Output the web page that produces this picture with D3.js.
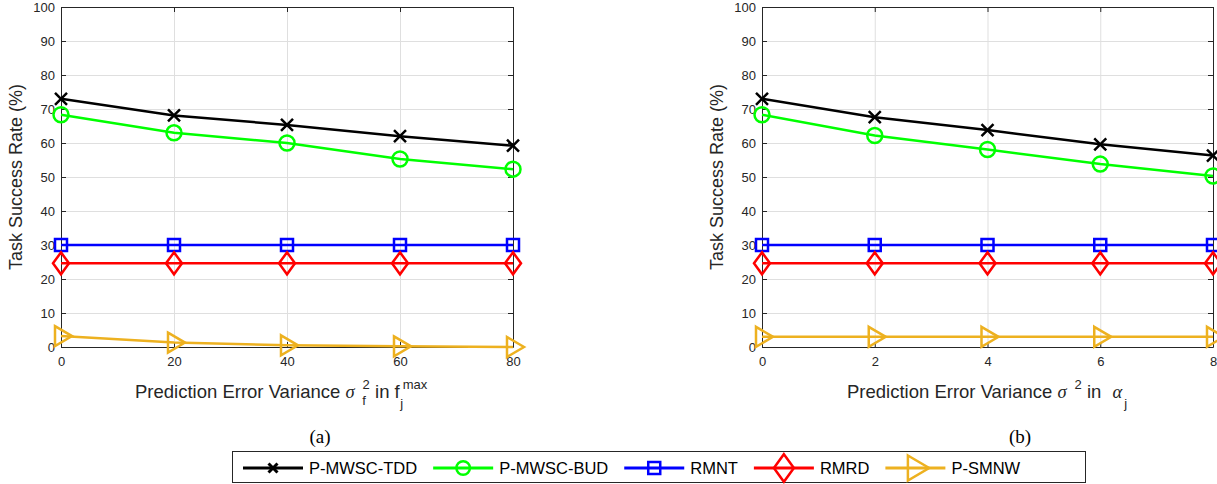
<!DOCTYPE html>
<html>
<head>
<meta charset="utf-8">
<title>Task Success Rate</title>
<script src="https://d3js.org/d3.v7.min.js"></script>
<style>
  body { margin: 0; background: #fff; }
  text { font-family: 'Liberation Sans', Arial, sans-serif; }
  .tick text { fill: #262626; }
  .serif { font-family: 'Liberation Serif', 'Times New Roman', serif; }
</style>
</head>
<body>
<div id="chart"></div>
<script>

  // ---- data ----
  var yTicks = [0, 10, 20, 30, 40, 50, 60, 70, 80, 90, 100];

  var xValsA = [0, 20, 40, 60, 80];
  var tddA   = [73.0, 68.1, 65.3, 62.0, 59.2];
  var budA   = [68.3, 63.0, 60.0, 55.3, 52.3];
  var rmntA  = [30, 30, 30, 30, 30];
  var rmrdA  = [24.6, 24.6, 24.6, 24.6, 24.6];
  var smnwA  = [3.2, 1.3, 0.5, 0.2, 0.0];

  var xValsB = [0, 2, 4, 6, 8];
  var tddB   = [73.0, 67.6, 63.8, 59.6, 56.3];
  var budB   = [68.3, 62.2, 58.1, 53.8, 50.3];
  var rmntB  = [30, 30, 30, 30, 30];
  var rmrdB  = [24.6, 24.6, 24.6, 24.6, 24.6];
  var smnwB  = [3.0, 3.0, 3.0, 3.0, 3.0];

  var seriesNames = ["P-MWSC-TDD", "P-MWSC-BUD", "RMNT", "RMRD", "P-SMNW"];
  var seriesColors = ["#000000", "#00ff00", "#0000ff", "#ff0000", "#edb120"];
  var seriesMarkers = ["x", "circle", "square", "diamond", "triangle"];

  // ---- svg ----
  var W = 1217, H = 484;
  var svg = d3.select("#chart").append("svg")
    .attr("width", W).attr("height", H);

  // marker path generator, centred at 0,0
  function markerPath(type, s) {
    var k = s || 1;
    if (type == "x") return "M" + (-6*k) + "," + (-6*k) + "L" + (6*k) + "," + (6*k) + "M" + (-6*k) + "," + (6*k) + "L" + (6*k) + "," + (-6*k);
    if (type == "circle") { var r = 7.5*k; return "M" + (-r) + ",0A" + r + "," + r + " 0 1,0 " + r + ",0A" + r + "," + r + " 0 1,0 " + (-r) + ",0Z"; }
    if (type == "square") return "M-6,-6H6V6H-6Z";
    if (type == "diamond") return "M0," + (-11*k) + "L" + (8*k) + ",0L0," + (11*k) + "L" + (-8*k) + ",0Z";
    if (type == "triangle") return "M" + (-6*k) + "," + (-10*k) + "L" + (11*k) + ",0L" + (-6*k) + "," + (10*k) + "Z";
  }

  function drawPanel(opt) {
    var g = svg.append("g");
    var x = d3.scaleLinear().domain(opt.xDomain).range([opt.x0, opt.x1]);
    var y = d3.scaleLinear().domain([0, 100]).range([347, 7]);

    // grid
    g.append("g").attr("transform", "translate(0,347)")
      .call(d3.axisBottom(x).tickValues(opt.xVals).tickSize(-340).tickFormat(""))
      .call(function (a) { a.select(".domain").remove(); a.selectAll("line").attr("stroke", "#dfdfdf"); });
    g.append("g").attr("transform", "translate(" + opt.x0 + ",0)")
      .call(d3.axisLeft(y).tickValues(yTicks).tickSize(-(opt.x1 - opt.x0)).tickFormat(""))
      .call(function (a) { a.select(".domain").remove(); a.selectAll("line").attr("stroke", "#dfdfdf"); });

    // box axes
    var axB = g.append("g").attr("transform", "translate(0,347)")
      .call(d3.axisBottom(x).tickValues(opt.xVals).tickSizeInner(-5).tickSizeOuter(0).tickPadding(10));
    var axL = g.append("g").attr("transform", "translate(" + opt.x0 + ",0)")
      .call(d3.axisLeft(y).tickValues(yTicks).tickSizeInner(-5).tickSizeOuter(0).tickPadding(6));
    var axT = g.append("g").attr("transform", "translate(0,7)")
      .call(d3.axisTop(x).tickValues(opt.xVals).tickSizeInner(-5).tickSizeOuter(0).tickFormat(""));
    var axR = g.append("g").attr("transform", "translate(" + opt.x1 + ",0)")
      .call(d3.axisRight(y).tickValues(yTicks).tickSizeInner(-5).tickSizeOuter(0).tickFormat(""));
    [axB, axL, axT, axR].forEach(function (a) {
      a.select(".domain").attr("stroke", "#262626");
      a.selectAll(".tick line").attr("stroke", "#262626");
    });
    axB.selectAll(".tick text").attr("font-size", 13);
    axL.selectAll(".tick text").attr("font-size", 13);

    // series
    var line = d3.line().x(function (d) { return x(d[0]); }).y(function (d) { return y(d[1]); });
    opt.series.forEach(function (vals, i) {
      var pts = opt.xVals.map(function (xv, j) { return [xv, vals[j]]; });
      g.append("path").datum(pts).attr("d", line)
        .attr("fill", "none").attr("stroke", seriesColors[i]).attr("stroke-width", 2.5);
      g.selectAll(".m" + i).data(pts).enter().append("path")
        .attr("transform", function (d) { return "translate(" + x(d[0]) + "," + y(d[1]) + ")"; })
        .attr("d", markerPath(seriesMarkers[i]))
        .attr("fill", "none").attr("stroke", seriesColors[i]).attr("stroke-width", 2.5);
    });

    // y label
    g.append("text")
      .attr("transform", "translate(" + opt.ylabX + ",177) rotate(-90)")
      .attr("text-anchor", "middle").attr("font-size", 18).attr("fill", "#262626")
      .text("Task Success Rate (%)");

    return g;
  }

  var gA = drawPanel({ xDomain: [0, 80], xVals: xValsA, x0: 61, x1: 513, ylabX: 22,
    series: [tddA, budA, rmntA, rmrdA, smnwA] });
  var gB = drawPanel({ xDomain: [0, 8], xVals: xValsB, x0: 762, x1: 1213, ylabX: 723,
    series: [tddB, budB, rmntB, rmrdB, smnwB] });

  // x labels
  var tA = svg.append("text").attr("x", 135).attr("y", 398)
    .attr("font-size", 18.5).attr("fill", "#262626");
  tA.append("tspan").text("Prediction Error Variance ");
  tA.append("tspan").attr("class", "serif").attr("font-style", "italic").text("\u03c3");
  tA.append("tspan").attr("font-size", 13).attr("dy", -9).attr("dx", 8).text("2");
  tA.append("tspan").attr("font-size", 13).attr("dy", 16).attr("dx", -7.5).text("f");
  tA.append("tspan").attr("dy", -7).attr("dx", 4).text(" in f");
  tA.append("tspan").attr("font-size", 13).attr("dy", -9).attr("dx", 3).text("max");
  tA.append("tspan").attr("font-size", 13).attr("dy", 19).attr("dx", -27).text("j");

  var tB = svg.append("text").attr("x", 847).attr("y", 398)
    .attr("font-size", 18.5).attr("fill", "#262626");
  tB.append("tspan").text("Prediction Error Variance ");
  tB.append("tspan").attr("class", "serif").attr("font-style", "italic").text("\u03c3");
  tB.append("tspan").attr("font-size", 13).attr("dy", -9).attr("dx", 8).text("2");
  tB.append("tspan").attr("dy", 9).text(" in ");
  tB.append("tspan").attr("class", "serif").attr("font-style", "italic").attr("dx", 6).text("\u03b1");
  tB.append("tspan").attr("font-size", 13).attr("dy", 10).attr("dx", 2).text("j");

  // captions
  svg.append("text").attr("class", "serif").attr("x", 320).attr("y", 443)
    .attr("text-anchor", "middle").attr("font-size", 19).attr("fill", "#000").text("(a)");
  svg.append("text").attr("class", "serif").attr("x", 1020).attr("y", 443)
    .attr("text-anchor", "middle").attr("font-size", 19).attr("fill", "#000").text("(b)");

  // legend
  var leg = svg.append("g");
  leg.append("rect").attr("x", 232.5).attr("y", 451.5).attr("width", 853).attr("height", 31)
    .attr("fill", "#fff").attr("stroke", "#262626").attr("stroke-width", 1);
  var lx = 243, ly = 468;
  seriesNames.forEach(function (name, i) {
    leg.append("line").attr("x1", lx).attr("x2", lx + 60).attr("y1", ly).attr("y2", ly)
      .attr("stroke", seriesColors[i]).attr("stroke-width", 3);
    var mk = seriesMarkers[i];
    var sc = mk == "diamond" || mk == "triangle" ? 1.25 : (mk == "x" ? 0.75 : 0.9);
    leg.append("path").attr("transform", "translate(" + (lx + 30) + "," + ly + ")")
      .attr("d", markerPath(mk, sc))
      .attr("fill", "none").attr("stroke", seriesColors[i]).attr("stroke-width", mk == "x" ? 3 : 2.5);
    var t = leg.append("text").attr("x", lx + 66).attr("y", ly + 6)
      .attr("font-size", 16.5).attr("fill", "#000").text(name);
    lx = lx + 66 + t.node().getComputedTextLength() + 16;
  });

</script>
</body>
</html>
